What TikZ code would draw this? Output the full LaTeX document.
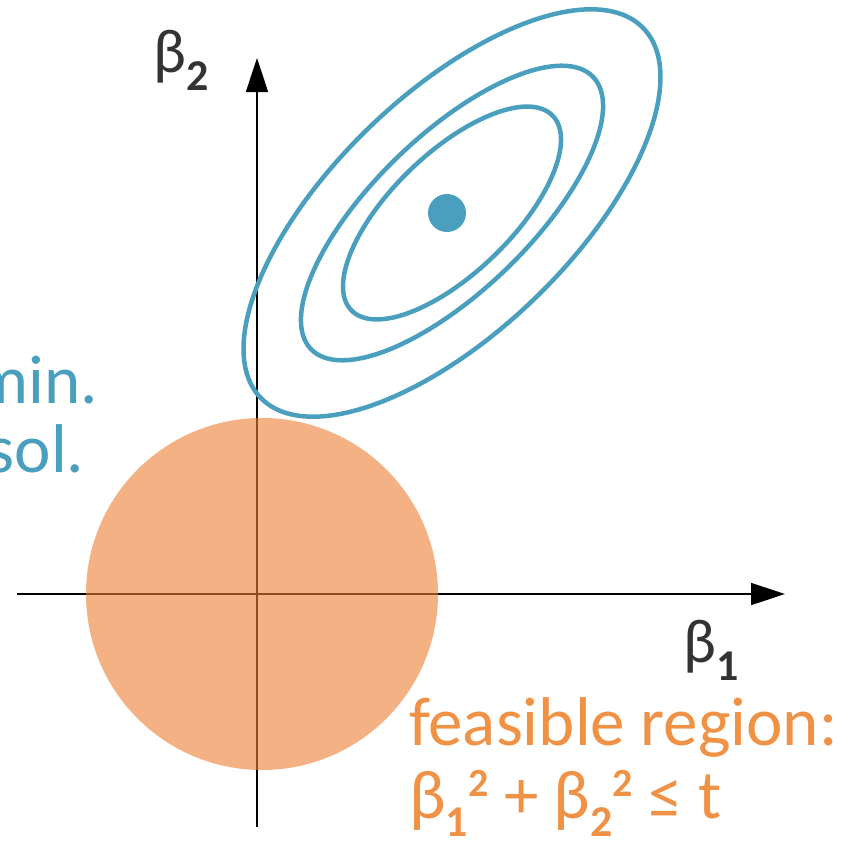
\documentclass[tikz,border=0pt]{standalone}
\usepackage{fontspec}
\setmainfont{Carlito}
\usetikzlibrary{arrows.meta}
\definecolor{lsBlue}     {HTML}{4A9FBE}
\definecolor{ridgeFill}  {HTML}{ED7D31}
\definecolor{ridgeText}  {HTML}{EF9246}
\definecolor{axisDark}   {HTML}{333333}
\tikzset{
  axisline/.style = {draw=black, line width=1.6pt,
                     -{Triangle[length=34pt, width=22pt]}},
  contour/.style  = {draw=lsBlue, line width=4.5pt},
  biglbl/.style   = {font=\fontsize{69}{73}\selectfont, inner sep=0pt, anchor=base west},
  axislbl/.style  = {font=\fontsize{62}{70}\selectfont, inner sep=0pt, anchor=base west,
                     text=axisDark},
}
\newcommand{\bsub}[1]{\raisebox{-18pt}{\fontsize{44}{44}\selectfont\bfseries #1}}
\newcommand{\bsup}[1]{\raisebox{22pt}{\fontsize{40}{40}\selectfont\bfseries #1}}

\begin{document}
\begin{tikzpicture}[x=1pt, y=-1pt]
\useasboundingbox (0,0) rectangle (859,844);
\clip (0,0) rectangle (859,844);

% Axes
\coordinate (xstart) at (17,594);
\coordinate (xend)   at (785,594);
\coordinate (ystart) at (257,827);
\coordinate (yend)   at (257,58);
\draw[axisline] (xstart) -- (xend);
\draw[axisline] (ystart) -- (yend);

% Feasible region
\coordinate (origin) at (262,594);
\fill[ridgeFill, fill opacity=0.6] (origin) circle [radius=176];

% Contours of the loss around the LS minimum
\coordinate (lsmin) at (452,213);
\draw[contour, rotate around={44:(lsmin)}] (lsmin) ellipse [x radius=266, y radius=119];
\draw[contour, rotate around={44:(lsmin)}] (lsmin) ellipse [x radius=196, y radius=78];
\draw[contour, rotate around={44:(lsmin)}] (lsmin) ellipse [x radius=140, y radius=60];
\fill[lsBlue] (447,213) circle [radius=19];

% Labels
\node[axislbl] (b2) at (153,72) {β\bsub{2}};
\node[axislbl] (b1) at (683,662) {β\bsub{1}};
\node[biglbl, text=lsBlue, anchor=base] (minA) at (36,403) {min.};
\node[biglbl, text=lsBlue, anchor=base] (minB) at (36,472) {sol.};
\node[biglbl, text=ridgeText] (feasA) at (409,745) {feasible region:};
\node[biglbl, text=ridgeText] (feasB) at (409,818)
  {β\bsub{1}\bsup{2} + β\bsub{2}\bsup{2} ≤ t};

\end{tikzpicture}
\end{document}
